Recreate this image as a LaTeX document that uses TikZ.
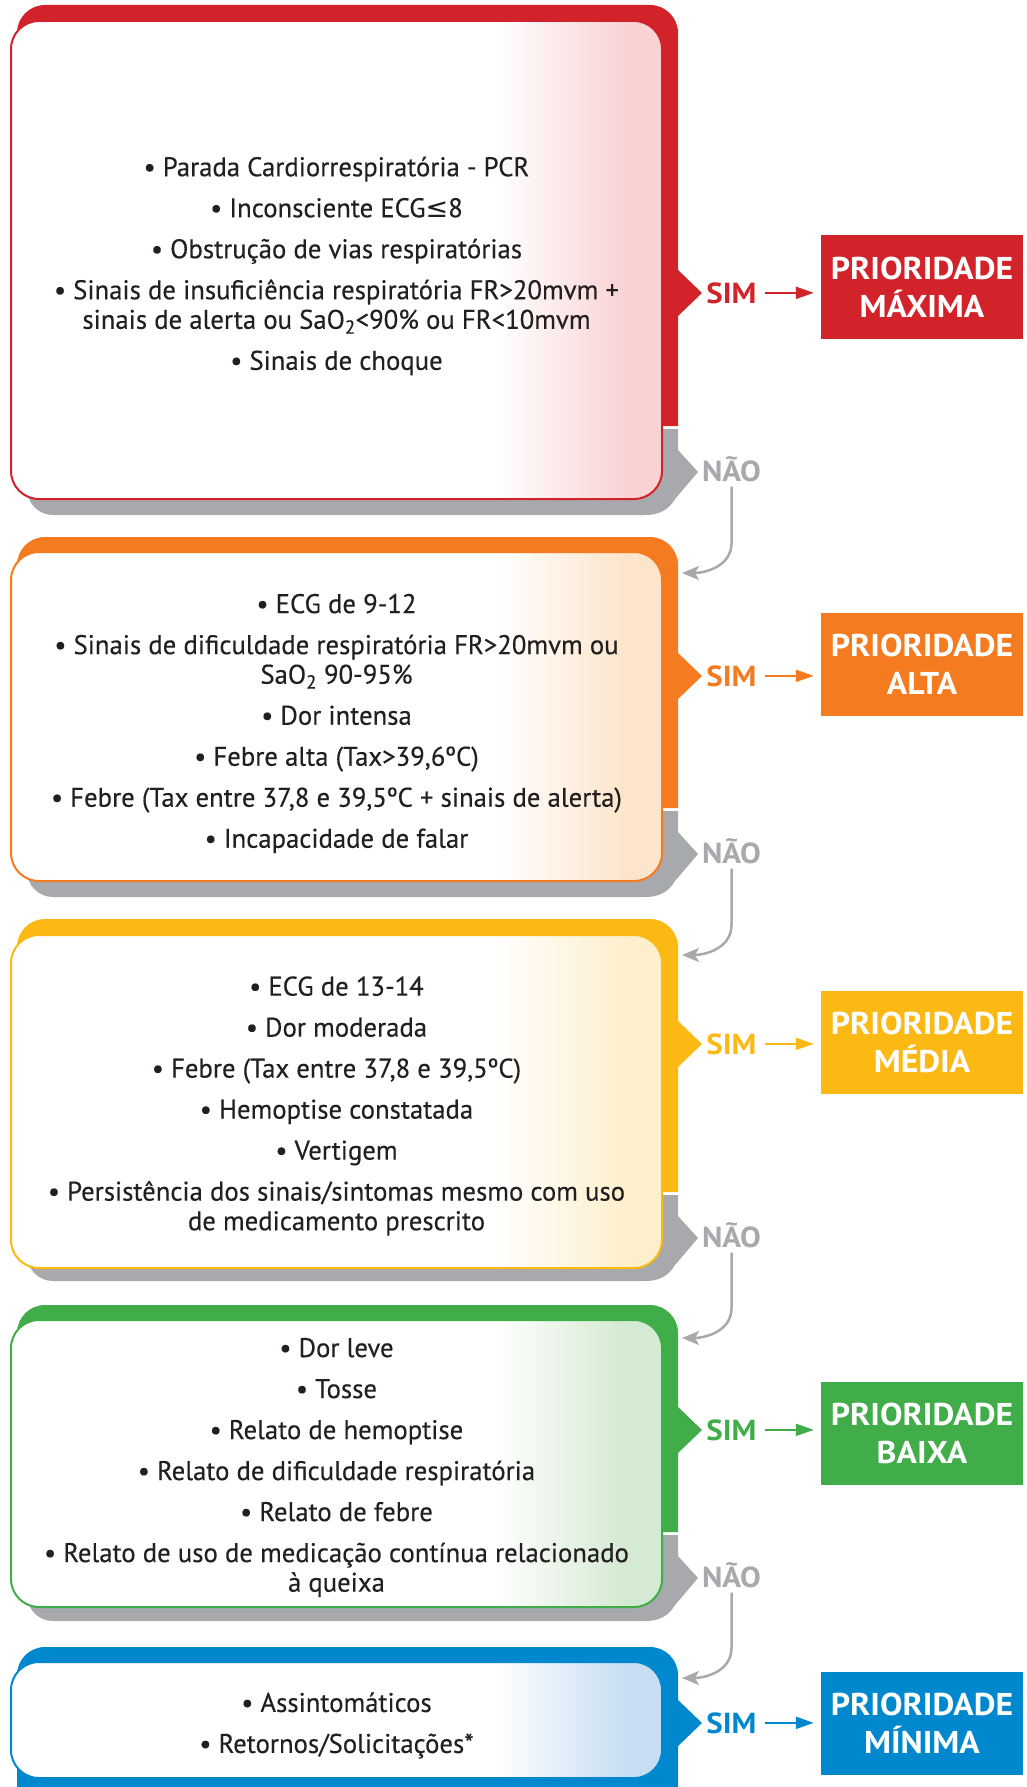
\documentclass[tikz,border=0pt]{standalone}
\usepackage{fontspec}
\setmainfont{PT Sans}[FakeStretch=0.99,FakeBold=0.3]
\newfontfamily\lblfont{PT Sans}[FakeStretch=1.07]
\newfontfamily\symfont{DejaVu Sans}
\usetikzlibrary{arrows.meta}
\definecolor{cRed}{HTML}{D2232A}
\definecolor{cOrange}{HTML}{F47B20}
\definecolor{cYellow}{HTML}{FDB913}
\definecolor{cGreen}{HTML}{40AD48}
\definecolor{cBlue}{HTML}{0088CF}
\definecolor{cGray}{HTML}{A7A9AC}
\definecolor{tRed}{HTML}{F9D3D4}
\definecolor{tOrange}{HTML}{FDE5CB}
\definecolor{tYellow}{HTML}{FEEFCC}
\definecolor{tGreen}{HTML}{D5EAD2}
\definecolor{tBlue}{HTML}{C7DEF2}
\definecolor{txt}{HTML}{231F20}
% colored back shape: colour, outer top, strip end, sim y
\newcommand\colshape[4]{%
  \fill[#1] (17,#3) -- (17,#2+40) [rounded corners=28pt] -- (17,#2) -- (678,#2) -- (678,#2+40) [sharp corners] -- (678,#3) -- cycle;
  \fill[#1] (677,#4-24) -- (702,#4) -- (677,#4+24) -- cycle;}
% gray shadow: nao y
\newcommand\grayshape[1]{%
  \fill[cGray] (27,#1-43) -- (678,#1-43) -- (678,#1-22) -- (698,#1) -- (675,#1+27) to[out=-120,in=0] (645,#1+43) [rounded corners=26pt] -- (27,#1+43) -- (27,#1-13) [sharp corners] -- cycle;}
% inner box: colour, tint, top, bottom
\newcommand\innerbox[4]{%
  \begin{scope}
    \clip[rounded corners=28pt] (11,#3) rectangle (662,#4);
    \fill[white] (11,#3) rectangle (662,#4);
    \shade[left color=white, right color=#2] (495,#3) rectangle (625,#4);
    \fill[#2] (624.5,#3) rectangle (662,#4);
  \end{scope}
  \draw[#1, line width=2pt, rounded corners=28pt] (11,#3) rectangle (662,#4);}
\tikzset{
  bodytext/.style={text=txt, align=center, inner sep=0pt, font=\fontsize{27}{29.6}\selectfont},
  simlab/.style={font=\lblfont\bfseries\fontsize{29}{30}\selectfont, inner sep=0pt, anchor=base},
  naolab/.style={simlab, text=cGray},
  prio/.style={minimum width=202pt, minimum height=103pt, inner sep=0pt, text=white, align=center, font=\lblfont\bfseries\fontsize{31.5}{38}\selectfont},
  simarrow/.style={line width=2pt, -{Triangle[length=18pt,width=12pt]}},
  naoarrow/.style={cGray, line width=2.5pt, -{Stealth[length=17pt,width=14pt,inset=4pt]}},
}
\begin{document}
\begin{tikzpicture}[x=1pt,y=-1pt]
\useasboundingbox (0,0) rectangle (1026,1787);
\clip (0,0) rectangle (1026,1787);
% ---------- box 1
\colshape{cRed}{5}{426}{293}
\grayshape{472}
\innerbox{cRed}{tRed}{21}{499}
% ---------- box 2
\colshape{cOrange}{537}{808}{676}
\grayshape{854}
\innerbox{cOrange}{tOrange}{552}{881}
% ---------- box 3
\colshape{cYellow}{919}{1192}{1044}
\grayshape{1238}
\innerbox{cYellow}{tYellow}{935}{1268}
% ---------- box 4
\colshape{cGreen}{1305}{1532}{1430}
\grayshape{1578}
\innerbox{cGreen}{tGreen}{1320}{1607}
% ---------- box 5
\colshape{cBlue}{1647}{1800}{1723}
\innerbox{cBlue}{tBlue}{1662}{1778}

% ---------- texts
\node[bodytext] (t1) at (336.5,266) {• Parada Cardiorrespiratória - PCR\\[11.4pt]
 • Inconsciente ECG{\symfont ≤}8\\[11.4pt]
 • Obstrução de vias respiratórias\\[11.4pt]
 • Sinais de insuficiência respiratória FR>20mvm +\\
 sinais de alerta ou SaO\textsubscript{2}<90\% ou FR<10mvm\\[11.4pt]
 • Sinais de choque};
\node[bodytext] (t2) at (336.5,723.5) {• ECG de 9-12\\[11.4pt]
 • Sinais de dificuldade respiratória FR>20mvm ou\\
 SaO\textsubscript{2} 90-95\%\\[11.4pt]
 • Dor intensa\\[11.4pt]
 • Febre alta (Tax>39,6ºC)\\[11.4pt]
 • Febre (Tax entre 37,8 e 39,5ºC + sinais de alerta)\\[11.4pt]
 • Incapacidade de falar};
\node[bodytext] (t3) at (336.5,1106) {• ECG de 13-14\\[11.4pt]
 • Dor moderada\\[11.4pt]
 • Febre (Tax entre 37,8 e 39,5ºC)\\[11.4pt]
 • Hemoptise constatada\\[11.4pt]
 • Vertigem\\[11.4pt]
 • Persistência dos sinais/sintomas mesmo com uso\\
 de medicamento prescrito};
\node[bodytext] (t4) at (336.5,1467.5) {• Dor leve\\[11.4pt]
 • Tosse\\[11.4pt]
 • Relato de hemoptise\\[11.4pt]
 • Relato de dificuldade respiratória\\[11.4pt]
 • Relato de febre\\[11.4pt]
 • Relato de uso de medicação contínua relacionado\\
 à queixa};
\node[bodytext] (t5) at (336.5,1725.5) {• Assintomáticos\\[11.4pt]
 • Retornos/Solicitações*};

% ---------- SIM labels and priority boxes
\node[simlab, text=cRed] (sim1) at (731.5,303) {SIM};
\node[simlab, text=cOrange] (sim2) at (731.5,686) {SIM};
\node[simlab, text=cYellow] (sim3) at (731.5,1054) {SIM};
\node[simlab, text=cGreen] (sim4) at (731.5,1440) {SIM};
\node[simlab, text=cBlue] (sim5) at (731.5,1733) {SIM};

\node[prio, fill=cRed] (p1) at (922,287) {PRIORIDADE\\MÁXIMA};
\node[prio, fill=cOrange] (p2) at (922,664) {PRIORIDADE\\ALTA};
\node[prio, fill=cYellow] (p3) at (922,1042) {PRIORIDADE\\MÉDIA};
\node[prio, fill=cGreen] (p4) at (922,1433) {PRIORIDADE\\BAIXA};
\node[prio, fill=cBlue] (p5) at (922,1723) {PRIORIDADE\\MÍNIMA};

\draw[simarrow, cRed] ([xshift=8pt]sim1.east) -- ([xshift=-7pt]sim1.east -| p1.west);
\draw[simarrow, cOrange] ([xshift=8pt]sim2.east) -- ([xshift=-7pt]sim2.east -| p2.west);
\draw[simarrow, cYellow] ([xshift=8pt]sim3.east) -- ([xshift=-7pt]sim3.east -| p3.west);
\draw[simarrow, cGreen] ([xshift=8pt]sim4.east) -- ([xshift=-7pt]sim4.east -| p4.west);
\draw[simarrow, cBlue] ([xshift=8pt]sim5.east) -- ([xshift=-7pt]sim5.east -| p5.west);

% ---------- NAO labels and arrows
\node[naolab] (nao1) at (731.5,481) {NÃO};
\node[naolab] (nao2) at (731.5,863) {NÃO};
\node[naolab] (nao3) at (731.5,1247) {NÃO};
\node[naolab] (nao4) at (731.5,1587) {NÃO};
\coordinate (in2) at (682,573);
\coordinate (in3) at (682,955);
\coordinate (in4) at (682,1338);
\coordinate (in5) at (682,1678);
\draw[naoarrow] ([yshift=-5pt]nao1.south) -- ([yshift=30pt]nao1.south |- in2) .. controls ([yshift=6pt]nao1.south |- in2) and ([xshift=22pt]in2) .. (in2);
\draw[naoarrow] ([yshift=-5pt]nao2.south) -- ([yshift=30pt]nao2.south |- in3) .. controls ([yshift=6pt]nao2.south |- in3) and ([xshift=22pt]in3) .. (in3);
\draw[naoarrow] ([yshift=-5pt]nao3.south) -- ([yshift=30pt]nao3.south |- in4) .. controls ([yshift=6pt]nao3.south |- in4) and ([xshift=22pt]in4) .. (in4);
\draw[naoarrow] ([yshift=-5pt]nao4.south) -- ([yshift=30pt]nao4.south |- in5) .. controls ([yshift=6pt]nao4.south |- in5) and ([xshift=22pt]in5) .. (in5);
\end{tikzpicture}
\end{document}
